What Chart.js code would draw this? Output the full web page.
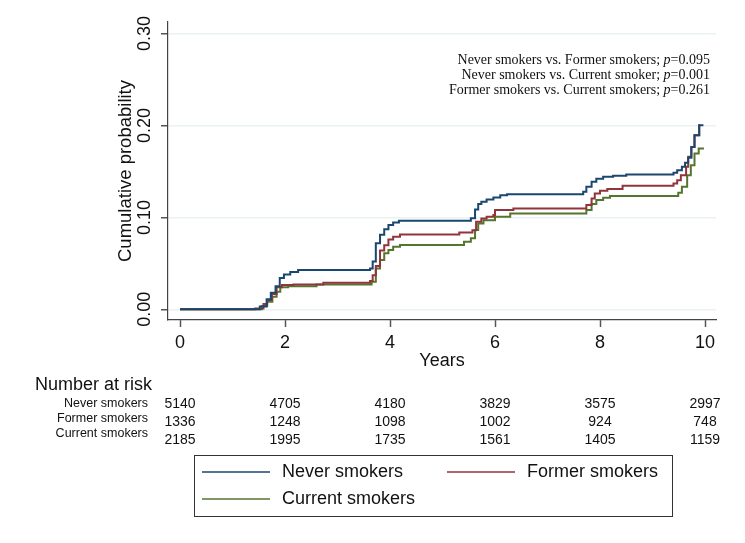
<!DOCTYPE html>
<html>
<head>
<meta charset="utf-8">
<script src="https://cdn.jsdelivr.net/npm/chart.js@4.4.0/dist/chart.umd.min.js"></script>
<style>
  body { margin: 0; background: #fff; }
  canvas { display: block; }
</style>
</head>
<body>
<canvas id="kmChart" width="745" height="543"></canvas>
<script>
// ticks
var xTicks = [0, 2, 4, 6, 8, 10];
var yTicks = [0, 0.1, 0.2, 0.3];
var yTickLabels = ['0.00', '0.10', '0.20', '0.30'];

// cumulative incidence (step points)
var neverT = [0, 1.52, 1.65, 1.73, 1.82, 1.90, 1.98, 2.10, 2.25, 3.62, 3.67, 3.73, 3.81, 3.89, 3.97, 4.06, 4.17,
              5.54, 5.62, 5.68, 5.74, 5.84, 5.97, 6.10, 6.23, 7.68, 7.74, 7.84, 7.93, 8.06, 8.25, 8.50,
              9.40, 9.47, 9.56, 9.62, 9.68, 9.74, 9.80, 9.89, 9.97];
var neverY = [0, 0.003, 0.011, 0.018, 0.025, 0.034, 0.038, 0.0405, 0.0427, 0.0445, 0.052, 0.072, 0.081, 0.087, 0.0917, 0.0945, 0.0963,
              0.099, 0.1087, 0.1145, 0.117, 0.1196, 0.1217, 0.124, 0.1253, 0.1278, 0.1333, 0.1387, 0.142, 0.1441, 0.1452, 0.1467,
              0.1485, 0.1514, 0.155, 0.1594, 0.165, 0.1767, 0.1895, 0.2003, 0.2003];

var formerT = [0, 1.43, 1.59, 1.66, 1.75, 1.84, 1.94, 2.16, 2.73, 3.62, 3.67, 3.73, 3.81, 3.89, 3.97, 4.06, 4.19,
               5.32, 5.57, 5.64, 5.74, 5.84, 5.97, 6.00, 6.35, 7.74, 7.84, 7.90, 8.00, 8.14, 8.43,
               9.40, 9.47, 9.54, 9.64, 9.68, 9.74, 9.80, 9.89];
var formerY = [0, 0.001, 0.0058, 0.010, 0.0166, 0.024, 0.0264, 0.027, 0.029, 0.0308, 0.037, 0.047, 0.064, 0.0697, 0.076, 0.079, 0.0815,
               0.0837, 0.086, 0.0952, 0.0989, 0.1007, 0.1025, 0.108, 0.1098, 0.1134, 0.1207, 0.126, 0.129, 0.1308, 0.1344,
               0.137, 0.1405, 0.146, 0.155, 0.1659, 0.1767, 0.1895, 0.2014];

var currentT = [0, 1.56, 1.66, 1.76, 1.84, 1.91, 2.06, 2.60, 3.65, 3.73, 3.81, 3.89, 3.97, 4.06, 4.19,
                5.41, 5.54, 5.62, 5.68, 5.78, 6.00, 6.29, 7.74, 7.84, 7.93, 8.06, 8.19,
                9.49, 9.56, 9.66, 9.73, 9.80, 9.88, 9.98];
var currentY = [0, 0.0036, 0.0083, 0.0137, 0.019, 0.024, 0.025, 0.027, 0.030, 0.0445, 0.0536, 0.061, 0.0645, 0.068, 0.070,
                0.0735, 0.0772, 0.0862, 0.0935, 0.097, 0.1007, 0.1043, 0.108, 0.1145, 0.1188, 0.1213, 0.1232,
                0.1268, 0.1333, 0.146, 0.1568, 0.1696, 0.175, 0.175];

// number at risk
var riskGroups = ['Never smokers', 'Former smokers', 'Current smokers'];
var riskNever = [5140, 4705, 4180, 3829, 3575, 2997];
var riskFormer = [1336, 1248, 1098, 1002, 924, 748];
var riskCurrent = [2185, 1995, 1735, 1561, 1405, 1159];

var pValues = [
    ['Never smokers vs. Former smokers; ', '0.095'],
    ['Never smokers vs. Current smoker; ', '0.001'],
    ['Former smokers vs. Current smokers; ', '0.261']
];

var colors = { never: '#1a476f', former: '#90353b', current: '#55752f' };

function pts(t, y) {
    return t.map(function(v, i) { return { x: v, y: y[i] }; });
}

var SANS = '"Liberation Sans", Arial, sans-serif';
var SERIF = '"Liberation Serif", "Times New Roman", serif';

var textPlugin = {
    id: 'stataText',
    afterDraw: function(chart) {
        var ctx = chart.ctx;
        var xs = chart.scales.x, ys = chart.scales.y;
        ctx.save();
        ctx.fillStyle = '#111';

        // y tick labels, rotated
        ctx.font = '18px ' + SANS;
        ctx.textAlign = 'center';
        ctx.textBaseline = 'middle';
        yTicks.forEach(function(v, i) {
            ctx.save();
            ctx.translate(145.5, ys.getPixelForValue(v));
            ctx.rotate(-Math.PI / 2);
            ctx.fillText(yTickLabels[i], 0, 0);
            ctx.restore();
        });
        // y title
        ctx.save();
        ctx.font = '18.5px ' + SANS;
        ctx.translate(126, (chart.chartArea.top + chart.chartArea.bottom) / 2);
        ctx.rotate(-Math.PI / 2);
        ctx.fillText('Cumulative probability', 0, 0);
        ctx.restore();

        // x tick labels + title
        ctx.font = '18px ' + SANS;
        xTicks.forEach(function(v) {
            ctx.fillText(String(v), xs.getPixelForValue(v), 343);
        });
        ctx.fillText('Years', (chart.chartArea.left + chart.chartArea.right) / 2, 361);

        // p-values, right aligned
        var fs = '14px ';
        ctx.textAlign = 'left';
        pValues.forEach(function(row, i) {
            var y = 60 + i * 15;
            ctx.font = fs + SERIF;
            var w1 = ctx.measureText(row[0]).width;
            var w2 = ctx.measureText('=' + row[1]).width;
            ctx.font = 'italic ' + fs + SERIF;
            var wp = ctx.measureText('p').width;
            var x0 = 710 - (w1 + wp + w2);
            ctx.font = fs + SERIF;
            ctx.fillText(row[0], x0, y);
            ctx.fillText('=' + row[1], x0 + w1 + wp, y);
            ctx.font = 'italic ' + fs + SERIF;
            ctx.fillText('p', x0 + w1, y);
        });

        // number at risk
        ctx.font = '18px ' + SANS;
        ctx.textAlign = 'left';
        ctx.fillText('Number at risk', 35, 385);
        ctx.font = '12.5px ' + SANS;
        ctx.textAlign = 'right';
        var labelY = [404, 419, 434];
        riskGroups.forEach(function(g, i) { ctx.fillText(g, 148, labelY[i]); });
        ctx.font = '14px ' + SANS;
        ctx.textAlign = 'center';
        [riskNever, riskFormer, riskCurrent].forEach(function(row, r) {
            row.forEach(function(n, i) {
                ctx.fillText(String(n), xs.getPixelForValue(xTicks[i]), 404 + r * 18);
            });
        });

        // legend box
        ctx.strokeStyle = '#333';
        ctx.lineWidth = 1;
        ctx.strokeRect(194.5, 455.5, 478, 61);
        var items = [
            [chart.data.datasets[0], 202, 472],
            [chart.data.datasets[1], 447, 472],
            [chart.data.datasets[2], 202, 499]
        ];
        ctx.font = '18px ' + SANS;
        ctx.textAlign = 'left';
        items.forEach(function(it) {
            ctx.strokeStyle = it[0].borderColor;
            ctx.lineWidth = 1.5;
            ctx.beginPath();
            ctx.moveTo(it[1], it[2]);
            ctx.lineTo(it[1] + 68, it[2]);
            ctx.stroke();
            ctx.fillText(it[0].label, it[1] + 80, it[2]);
        });
        ctx.restore();
    }
};

new Chart(document.getElementById('kmChart').getContext('2d'), {
    type: 'line',
    data: {
        datasets: [{
            label: 'Never smokers',
            data: pts(neverT, neverY),
            borderColor: colors.never,
            borderWidth: 2,
            stepped: true,
            pointRadius: 0,
            fill: false
        }, {
            label: 'Former smokers',
            data: pts(formerT, formerY),
            borderColor: colors.former,
            borderWidth: 2,
            stepped: true,
            pointRadius: 0,
            fill: false
        }, {
            label: 'Current smokers',
            data: pts(currentT, currentY),
            borderColor: colors.current,
            borderWidth: 2,
            stepped: true,
            pointRadius: 0,
            fill: false
        }]
    },
    options: {
        responsive: false,
        animation: false,
        layout: { padding: { left: 161, right: 29, top: 22, bottom: 216 } },
        plugins: { legend: { display: false }, tooltip: { enabled: false } },
        scales: {
            x: {
                type: 'linear',
                min: -12 / 52.5,
                max: 536 / 52.5,
                afterBuildTicks: function(s) { s.ticks = xTicks.map(function(v) { return { value: v }; }); },
                ticks: { display: false },
                grid: { drawOnChartArea: false, tickLength: 7, tickColor: '#555', tickWidth: 1.5 },
                border: { color: '#444', width: 1.2 }
            },
            y: {
                type: 'linear',
                min: -10.7 / 920,
                max: 287.6 / 920,
                afterBuildTicks: function(s) { s.ticks = yTicks.map(function(v) { return { value: v }; }); },
                ticks: { display: false },
                grid: { color: '#eaf2f3', lineWidth: 1.5, tickLength: 7, tickColor: '#555', tickWidth: 1.5 },
                border: { color: '#444', width: 1.2 }
            }
        }
    },
    plugins: [textPlugin]
});
</script>
</body>
</html>
